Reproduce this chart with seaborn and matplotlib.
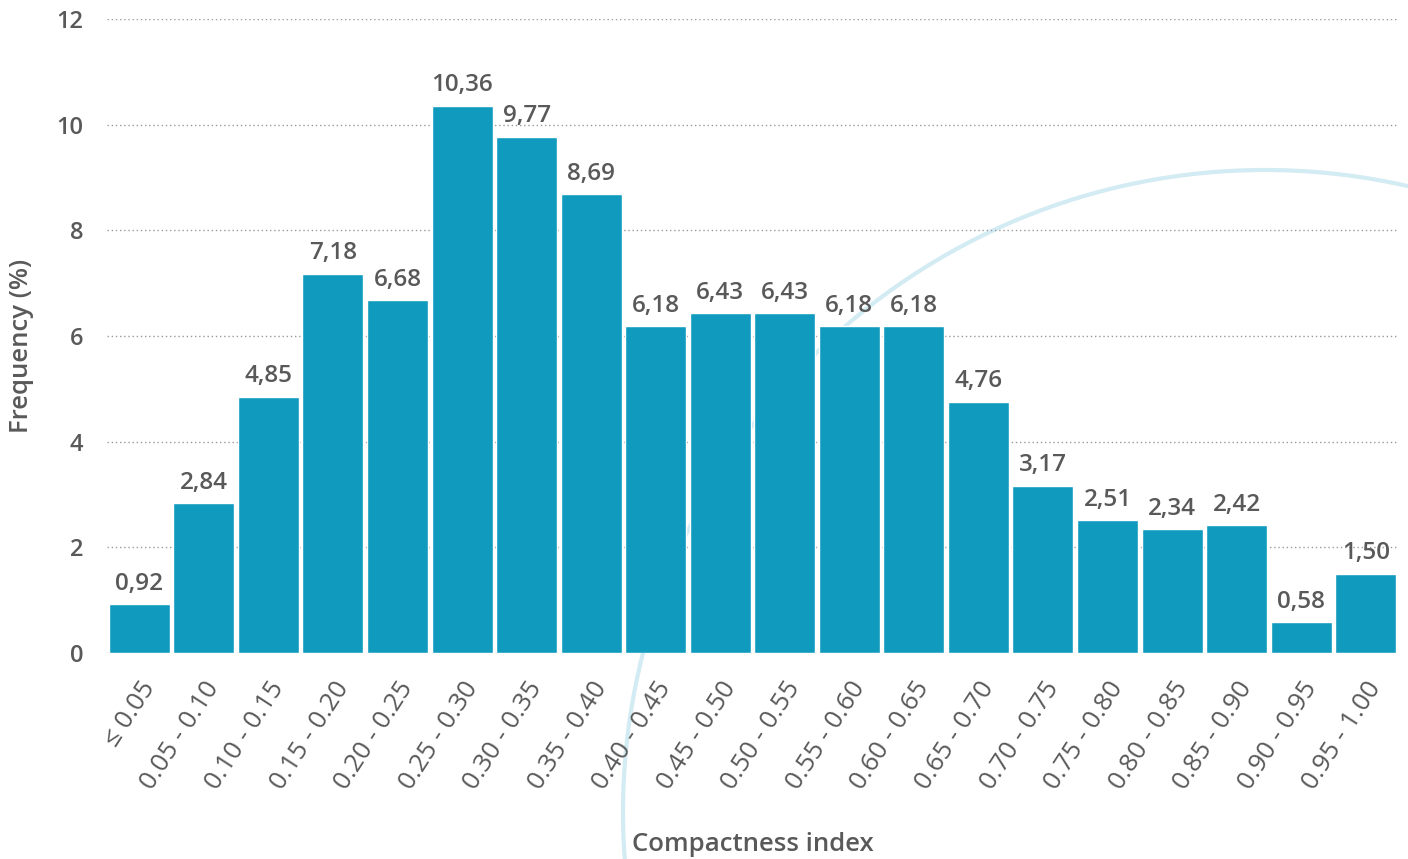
import matplotlib
matplotlib.use("Agg")
import matplotlib.pyplot as plt
from matplotlib.patches import Circle
import seaborn as sns
import pandas as pd

categories = ["≤ 0.05", "0.05 - 0.10", "0.10 - 0.15", "0.15 - 0.20", "0.20 - 0.25",
              "0.25 - 0.30", "0.30 - 0.35", "0.35 - 0.40", "0.40 - 0.45", "0.45 - 0.50",
              "0.50 - 0.55", "0.55 - 0.60", "0.60 - 0.65", "0.65 - 0.70", "0.70 - 0.75",
              "0.75 - 0.80", "0.80 - 0.85", "0.85 - 0.90", "0.90 - 0.95", "0.95 - 1.00"]
frequency = [0.92, 2.84, 4.85, 7.18, 6.68, 10.36, 9.77, 8.69, 6.18, 6.43,
             6.43, 6.18, 6.18, 4.76, 3.17, 2.51, 2.34, 2.42, 0.58, 1.50]
y_ticks = [0, 2, 4, 6, 8, 10, 12]

sns.set_theme(style="white")
plt.rcParams["font.family"] = ["Open Sans", "DejaVu Sans"]

W, H = 1408, 859
fig = plt.figure(figsize=(W / 100, H / 100), dpi=100)

# decorative background ring, drawn in pixel space behind the chart
bg = fig.add_axes([0, 0, 1, 1], zorder=0)
bg.set_xlim(0, W)
bg.set_ylim(H, 0)
bg.axis("off")
bg.add_patch(Circle((1265, 812), 642, fill=False, edgecolor="#d3ebf3", linewidth=3))

ax = fig.add_axes([107 / W, 1 - 653 / H, (1398 - 107) / W, (653 - 19) / H], zorder=1)
ax.patch.set_alpha(0)

df = pd.DataFrame({"range": categories, "freq": frequency})
text_color = "#595959"
sns.barplot(data=df, x="range", y="freq", color="#109bbe", saturation=1,
            width=0.945, ax=ax, zorder=3)

ax.set_xlim(-0.5, len(categories) - 0.5)
ax.set_ylim(0, 12)
ax.set_yticks(y_ticks)
ax.yaxis.grid(True, linestyle=(0, (1, 2)), color="#9a9a9a", linewidth=1, zorder=0)
ax.xaxis.grid(False)
for s in ax.spines.values():
    s.set_visible(False)

ax.tick_params(axis="y", length=0, pad=17, labelsize=17, labelcolor=text_color)
ax.tick_params(axis="x", length=0, pad=17, labelsize=18.5, labelcolor=text_color)
for lbl in ax.get_yticklabels():
    lbl.set_fontweight("semibold")
plt.setp(ax.get_xticklabels(), rotation=57, ha="right", rotation_mode="anchor")

for container in ax.containers:
    ax.bar_label(container, labels=[f"{v:.2f}".replace(".", ",") for v in frequency],
                 padding=6, fontsize=17.5, fontweight="semibold", color=text_color)

ax.set_xlabel("Compactness index", fontsize=18.5, fontweight="semibold",
              color=text_color)
ax.set_ylabel("Frequency (%)", fontsize=18.5, fontweight="semibold",
              color=text_color)
ax.xaxis.set_label_coords(0.5, -(832 - 653) / (653 - 19))
ax.yaxis.set_label_coords(-(107 - 34) / (1398 - 107), 0.485)

fig.savefig("out.png", dpi=100)
